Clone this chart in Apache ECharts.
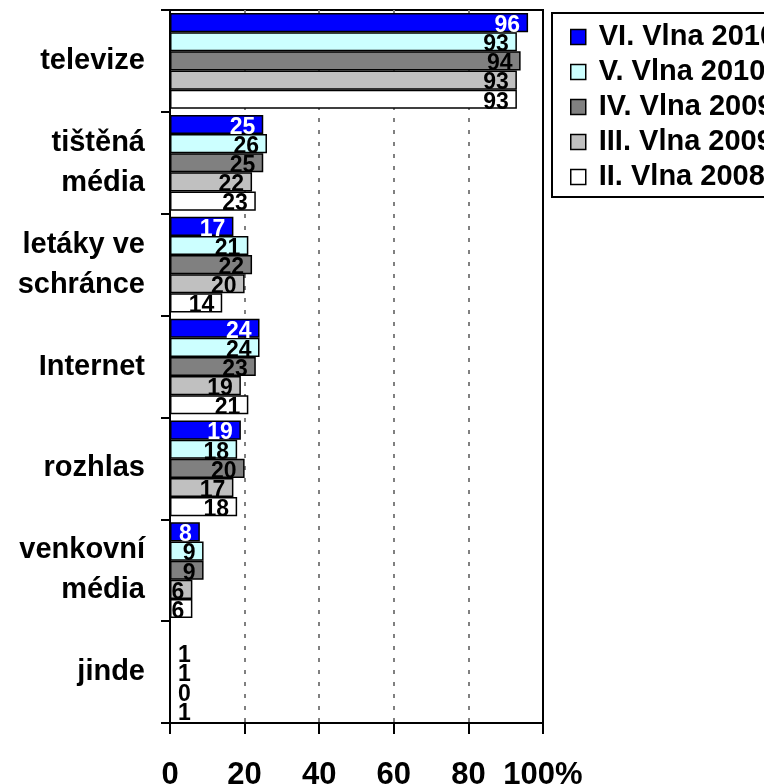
<!DOCTYPE html>
<html>
<head>
<meta charset="utf-8">
<script src="https://cdn.jsdelivr.net/npm/echarts@6/dist/echarts.min.js"></script>
<style>
  html, body { margin: 0; padding: 0; background: #fff; }
  /* pevná velikost podle předlohy */
  #myChart { width: 764px; height: 784px; }
</style>
</head>
<body>
<div id="myChart"></div>
<script>
// kategorie (shora dolů)
var categories = ['televize', 'tištěná\nmédia', 'letáky ve\nschránce', 'Internet', 'rozhlas', 'venkovní\nmédia', 'jinde']
// hodnoty jednotlivých vln v %
var vlna6 = [96, 25, 17, 24, 19, 8, null]
var vlna5 = [93, 26, 21, 24, 18, 9, 1]
var vlna4 = [94, 25, 22, 23, 20, 9, 1]
var vlna3 = [93, 22, 20, 19, 17, 6, 0]
var vlna2 = [93, 23, 14, 21, 18, 6, 1]
var seriesNames = ['VI. Vlna 2010', 'V. Vlna 2010', 'IV. Vlna 2009', 'III. Vlna 2009', 'II. Vlna 2008']
var xTicks = [0, 20, 40, 60, 80, 100]

var font = 'Liberation Sans, Arial, sans-serif'
var colors = ['#0000ff', '#ccffff', '#808080', '#c0c0c0', '#ffffff']

// u "jinde" jsou sloupce prakticky neviditelne, popisek vlevo u osy
function buildData (values) {
  return values.map(function (v, i) {
    if (categories[i] === 'jinde') {
      return {
        value: v,
        itemStyle: { color: 'rgba(0,0,0,0)', borderWidth: 0 },
        label: { position: 'insideLeft', distance: 8 }
      }
    }
    return v
  })
}

var allValues = [vlna6, vlna5, vlna4, vlna3, vlna2]
var series = allValues.map(function (vals, k) {
  return {
    name: seriesNames[k],
    type: 'bar',
    data: buildData(vals),
    barGap: '0%',
    barCategoryGap: '6%',
    itemStyle: { color: colors[k], borderColor: '#000', borderWidth: 1.5 },
    label: {
      show: true,
      position: 'insideRight',
      distance: 8,
      offset: [0, 3],
      color: k === 0 ? '#fff' : '#000',
      fontFamily: font,
      fontWeight: 'bold',
      fontSize: 23
    }
  }
})

// svisle mrizky: posledni (100) schovat, tam je ramecek
var gridColors = xTicks.map(function (t, i) { return i === xTicks.length - 1 ? 'rgba(0,0,0,0)' : '#808080' })

var myChart = echarts.init(document.getElementById('myChart'), null, { renderer: 'canvas' })
myChart.setOption({
  animation: false,
  backgroundColor: '#fff',
  grid: {
    left: 170,
    right: 221,
    top: 10,
    bottom: 61,
    outerBoundsMode: 'none',
    containLabel: false,
    show: true,
    borderColor: '#000',
    borderWidth: 2,
    backgroundColor: 'transparent'
  },
  legend: {
    orient: 'vertical',
    left: 552,
    top: 13,
    padding: [9, 10, 5, 18],
    itemGap: 5,
    itemWidth: 15,
    itemHeight: 15,
    icon: 'rect',
    backgroundColor: '#fff',
    borderColor: '#000',
    borderWidth: 2,
    borderRadius: 0,
    itemStyle: { borderColor: '#000', borderWidth: 1.5 },
    textStyle: {
      fontFamily: font,
      fontWeight: 'bold',
      fontSize: 29,
      lineHeight: 30,
      color: '#000',
      padding: [0, 0, 0, 8]
    },
    data: seriesNames
  },
  xAxis: {
    type: 'value',
    min: 0,
    max: 100,
    interval: 20,
    axisLine: { show: true, lineStyle: { color: '#000', width: 2 } },
    axisTick: { show: true, length: 11, lineStyle: { color: '#000', width: 2 } },
    axisLabel: {
      margin: 37,
      fontFamily: font,
      fontWeight: 'bold',
      fontSize: 31,
      color: '#000',
      formatter: function (v) { return v === xTicks[xTicks.length - 1] ? v + '%' : String(v) }
    },
    splitLine: { show: true, lineStyle: { color: gridColors, width: 2, type: [4, 8] } }
  },
  yAxis: {
    type: 'category',
    inverse: true,
    data: categories,
    axisLine: { show: true, lineStyle: { color: '#000', width: 2 } },
    axisTick: { show: true, length: 9, lineStyle: { color: '#000', width: 2 } },
    axisLabel: {
      margin: 25,
      fontFamily: font,
      fontWeight: 'bold',
      fontSize: 29,
      lineHeight: 40,
      color: '#000',
      align: 'right'
    },
    splitLine: { show: false }
  },
  series: series
})
</script>
</body>
</html>
